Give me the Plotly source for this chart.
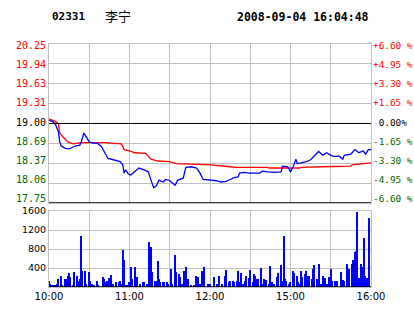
import plotly.graph_objects as go

W, H = 414, 314

stock_code = "02331"
stock_name = "李宁"
timestamp = "2008-09-04 16:04:48"

time_ticks = [0, 60, 120, 180, 240]
time_labels = ["10:00", "11:00", "12:00", "15:00", "16:00"]
grid_minutes = [0, 30, 60, 90, 120, 150, 180, 210, 240]

price_levels = [20.25, 19.94, 19.63, 19.31, 19.00, 18.69, 18.37, 18.06, 17.75]
price_labels = ["20.25", "19.94", "19.63", "19.31", "19.00", "18.69", "18.37", "18.06", "17.75"]
pct_labels = ["+6.60 %", "+4.95 %", "+3.30 %", "+1.65 %", "\u00a00.00%", "-1.65 %", "-3.30 %", "-4.95 %", "-6.60 %"]
prev_close = 19.00

vol_ticks = [400, 800, 1200, 1600]
vol_labels = ["400", "800", "1200", "1600"]

price_min = [0, 3, 5, 7, 8, 9, 12, 15, 18, 20, 23, 24, 26, 28, 30, 33, 36, 39, 41, 44, 48, 53, 55, 56, 57,
             59, 61, 64, 67, 71, 74, 76, 78, 80, 82, 85, 87, 90, 92, 94, 96, 100, 102, 106, 110, 112, 115,
             120, 125, 128, 132, 135, 138, 141, 142, 146, 149, 157, 159, 163, 168, 173, 174, 178, 180, 182,
             184, 185, 188, 192, 195, 198, 201, 204, 207, 210, 213, 216, 219, 220, 225, 228, 231, 234, 236,
             238, 240]
price_val = [19.05, 19.03, 18.98, 18.87, 18.71, 18.65, 18.61, 18.60, 18.63, 18.65, 18.66, 18.71, 18.85, 18.79,
             18.71, 18.69, 18.69, 18.64, 18.56, 18.45, 18.43, 18.40, 18.35, 18.22, 18.27, 18.21, 18.19, 18.24,
             18.30, 18.27, 18.24, 18.11, 17.99, 18.02, 18.11, 18.08, 18.12, 18.10, 18.07, 18.03, 18.11, 18.14,
             18.31, 18.32, 18.30, 18.24, 18.12, 18.11, 18.10, 18.08, 18.09, 18.12, 18.15, 18.16, 18.22, 18.23,
             18.22, 18.22, 18.25, 18.24, 18.23, 18.24, 18.33, 18.32, 18.24, 18.32, 18.44, 18.37, 18.38, 18.40,
             18.43, 18.50, 18.56, 18.50, 18.54, 18.50, 18.48, 18.49, 18.44, 18.50, 18.52, 18.59, 18.54, 18.57,
             18.52, 18.59, 18.59]

avg_min = [0, 4, 7, 8, 10, 14, 18, 24, 43, 45, 54, 56, 60, 64, 72, 76, 81, 90, 95, 110, 121, 135, 139,
           163, 164, 187, 188, 204, 225, 226, 231, 236, 240]
avg_val = [19.07, 19.04, 19.00, 18.85, 18.80, 18.71, 18.68, 18.70, 18.70, 18.69, 18.68, 18.59, 18.57, 18.54,
           18.53, 18.44, 18.41, 18.40, 18.37, 18.36, 18.35, 18.32, 18.31, 18.31, 18.30, 18.30, 18.31, 18.32,
           18.33, 18.35, 18.36, 18.37, 18.38]

vol_min = [0, 1, 2, 4, 5, 6, 7, 9, 10, 12, 13, 14, 15, 16, 18, 19, 21, 22, 23, 24, 25, 27, 28, 30, 31, 32,
           34, 36, 37, 40, 41, 42, 43, 45, 46, 48, 50, 52, 53, 54, 55, 56, 57, 58, 60, 61, 62, 64, 65, 66,
           68, 70, 71, 73, 75, 76, 77, 79, 80, 81, 82, 83, 85, 86, 88, 89, 91, 92, 94, 95, 97, 98, 99, 101,
           102, 104, 106, 108, 110, 111, 113, 114, 115, 116, 119, 120, 123, 125, 127, 129, 131, 132, 134,
           135, 137, 138, 140, 141, 142, 143, 145, 146, 147, 149, 150, 152, 153, 154, 155, 156, 158, 159,
           160, 162, 164, 165, 166, 168, 170, 171, 173, 174, 175, 176, 177, 179, 180, 182, 183, 185, 186,
           187, 188, 189, 191, 192, 193, 194, 196, 197, 198, 200, 201, 203, 204, 206, 207, 209, 210, 211,
           213, 214, 215, 218, 219, 220, 222, 223, 224, 226, 227, 228, 229, 230, 231, 233, 234, 235, 236,
           237, 238, 239]
vol_val = [133, 63, 42, 42, 42, 63, 168, 225, 42, 168, 168, 225, 295, 204, 42, 323, 225, 133, 168, 1081, 344,
           344, 63, 323, 133, 63, 42, 133, 42, 204, 168, 98, 133, 183, 253, 63, 98, 98, 133, 63, 786, 575,
           42, 42, 112, 428, 168, 414, 63, 218, 63, 98, 112, 63, 955, 849, 323, 133, 133, 554, 168, 98, 98,
           98, 112, 63, 379, 63, 674, 323, 274, 204, 63, 344, 414, 168, 42, 42, 239, 204, 63, 344, 133, 414,
           63, 63, 218, 63, 239, 63, 239, 365, 112, 133, 133, 112, 133, 330, 98, 295, 63, 133, 239, 183, 358,
           112, 274, 239, 168, 168, 400, 63, 168, 147, 63, 435, 112, 63, 204, 295, 463, 133, 1081, 168, 133,
           63, 112, 344, 295, 225, 112, 63, 344, 204, 274, 344, 239, 225, 168, 379, 463, 168, 484, 63, 225,
           183, 63, 204, 379, 133, 133, 133, 133, 323, 154, 133, 484, 63, 379, 484, 575, 744, 765, 1587, 183,
           484, 414, 1025, 225, 183, 168, 1446]

GRID = "#c0c0c0"
GREEN = "#006600"
RED = "#ff0000"

x0, x1 = 49 / W, 371 / W
p_dom = [1 - 203 / H, 1 - 44 / H]
v_dom = [1 - 287 / H, 1 - 211 / H]

fig = go.Figure()
fig.add_trace(go.Scatter(x=avg_min, y=avg_val, mode="lines", line=dict(color=RED, width=1.3),
                         xaxis="x", yaxis="y"))
fig.add_trace(go.Scatter(x=price_min, y=price_val, mode="lines", line=dict(color="#0000ff", width=1.3),
                         xaxis="x", yaxis="y"))
fig.add_trace(go.Bar(x=vol_min, y=vol_val, width=1.0, marker=dict(color="#0000ff", line=dict(width=0)),
                     xaxis="x2", yaxis="y2"))

xt_text = []
for m in grid_minutes:
    xt_text.append(time_labels[time_ticks.index(m)] if m in time_ticks else "")

axis_common = dict(showgrid=True, gridcolor=GRID, gridwidth=1, showline=True, linecolor=GRID,
                   linewidth=1, mirror=True, zeroline=False, automargin=False, ticks="")

fig.update_layout(
    width=W, height=H, margin=dict(l=0, r=0, t=0, b=0),
    paper_bgcolor="white", plot_bgcolor="white", showlegend=False, hovermode=False,
    xaxis=dict(domain=[x0, x1], range=[0, 240], tickvals=grid_minutes, showticklabels=False,
               anchor="y", **axis_common),
    yaxis=dict(domain=p_dom, range=[17.75, 20.25], tickvals=price_levels, showticklabels=False,
               anchor="x", **axis_common),
    xaxis2=dict(domain=[x0, x1], range=[0, 240], tickvals=grid_minutes, ticktext=xt_text,
                tickfont=dict(family="DejaVu Sans", size=10, color="black"), anchor="y2", **axis_common),
    yaxis2=dict(domain=v_dom, range=[0, 1600], tickvals=vol_ticks, ticktext=vol_labels,
                tickfont=dict(family="DejaVu Sans", size=9.5, color="black"), anchor="x2", **axis_common),
    bargap=0,
)

shapes = [
    dict(type="line", xref="x", yref="y", x0=0, x1=240, y0=prev_close, y1=prev_close,
         line=dict(color="black", width=1)),
    dict(type="line", xref="x", yref="y", x0=0, x1=240, y0=17.75, y1=17.75,
         line=dict(color="black", width=1.5)),
    dict(type="line", xref="x2", yref="y2", x0=0, x1=240, y0=0, y1=0,
         line=dict(color="black", width=1.5)),
]
fig.update_layout(shapes=shapes)

ann = []
n = len(price_levels)
for i, (pv, pl, pc) in enumerate(zip(price_levels, price_labels, pct_labels)):
    if pv > prev_close:
        col = RED
    elif pv < prev_close:
        col = GREEN
    else:
        col = "black"
    ypx = 45.7 + i * (198.3 - 45.7) / (n - 1)
    yp = 1 - ypx / H
    ann.append(dict(x=47.5 / W, y=yp, xref="paper", yref="paper", text=pl, showarrow=False,
                    xanchor="right", yanchor="middle",
                    font=dict(family="DejaVu Sans Mono", size=10, color=col)))
    ann.append(dict(x=371.5 / W, y=yp, xref="paper", yref="paper", text=pc, showarrow=False,
                    xanchor="left", yanchor="middle", xshift=-1,
                    font=dict(family="DejaVu Sans Mono", size=9.4, color=col)))

ann.append(dict(x=49.5 / W, y=1 - 17 / H, xref="paper", yref="paper", text="<b>" + stock_code + "</b>",
                showarrow=False, xanchor="left", yanchor="middle",
                font=dict(family="DejaVu Sans Mono", size=11, color="black")))
ann.append(dict(x=103 / W, y=1 - 16 / H, xref="paper", yref="paper", text=stock_name,
                showarrow=False, xanchor="left", yanchor="middle",
                font=dict(family="Noto Sans CJK SC", size=13, color="black")))
ann.append(dict(x=371 / W, y=1 - 17 / H, xref="paper", yref="paper", text="<b>" + timestamp + "</b>",
                showarrow=False, xanchor="right", yanchor="middle",
                font=dict(family="DejaVu Sans Mono", size=11.5, color="black")))
fig.update_layout(annotations=ann)

fig.write_html("out.html")
